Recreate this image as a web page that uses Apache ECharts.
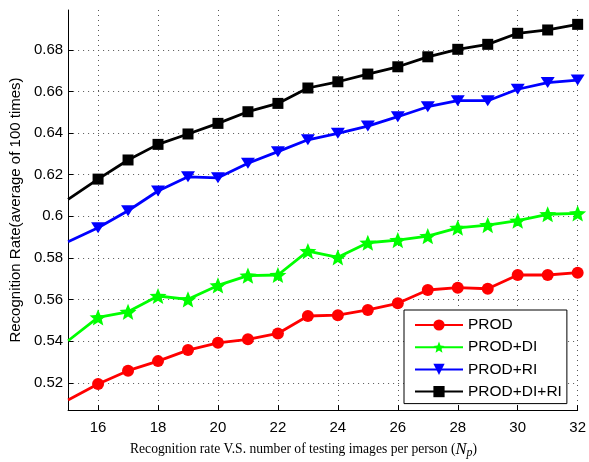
<!DOCTYPE html>
<html>
<head>
<meta charset="utf-8">
<script src="https://cdn.jsdelivr.net/npm/echarts@6/dist/echarts.min.js"></script>
<style>
  html, body { margin: 0; padding: 0; background: #fff; }
  #chart { width: 589px; height: 462px; }
</style>
</head>
<body>
<div id="chart"></div>
<script>
// Number of testing images per person (N_p)
const npValues = [15, 16, 17, 18, 19, 20, 21, 22, 23, 24, 25, 26, 27, 28, 29, 30, 31, 32];

// Recognition rates (average of 100 runs) for each method
const prod     = [0.5117, 0.5194, 0.5258, 0.5304, 0.5357, 0.5392, 0.5409, 0.5437, 0.5521, 0.5525, 0.5550, 0.5582, 0.5646, 0.5657, 0.5652, 0.5718, 0.5718, 0.5729];
const prodDi   = [0.5402, 0.5514, 0.5541, 0.5617, 0.5601, 0.5668, 0.5715, 0.5718, 0.5833, 0.5803, 0.5873, 0.5886, 0.5905, 0.5945, 0.5958, 0.5979, 0.6010, 0.6014];
const prodRi   = [0.5878, 0.5945, 0.6027, 0.6122, 0.6190, 0.6185, 0.6255, 0.6311, 0.6368, 0.6399, 0.6434, 0.6479, 0.6527, 0.6556, 0.6556, 0.6611, 0.6643, 0.6655];
const prodDiRi = [0.6082, 0.6179, 0.6271, 0.6346, 0.6396, 0.6447, 0.6503, 0.6543, 0.6617, 0.6647, 0.6684, 0.6719, 0.6767, 0.6803, 0.6827, 0.6880, 0.6896, 0.6923];

const seriesNames = ['PROD', 'PROD+DI', 'PROD+RI', 'PROD+DI+RI'];

// Tick positions
const xTicks = [16, 18, 20, 22, 24, 26, 28, 30, 32];
const yTicks = [0.52, 0.54, 0.56, 0.58, 0.6, 0.62, 0.64, 0.66, 0.68];

// five-pointed star marker
function starPath() {
  const R = 50, r = 22, pts = [];
  for (let i = 0; i < 10; i++) {
    const rad = (i % 2 === 0) ? R : r;
    const a = -Math.PI / 2 + i * Math.PI / 5;
    pts.push((50 + rad * Math.cos(a)).toFixed(2) + ' ' + (50 + rad * Math.sin(a)).toFixed(2));
  }
  return 'path://M' + pts.join(' L') + ' Z';
}

// the first sample sits on the left axis edge and carries no marker
function toPoints(values) {
  return values.map((v, i) => i === 0
    ? { value: [npValues[i], v], symbol: 'none' }
    : [npValues[i], v]);
}

const SANS = '"Liberation Sans", Arial, Helvetica, sans-serif';
const SERIF = '"Liberation Serif", "Times New Roman", serif';

function makeSeries(name, values, color, symbol, size, extra) {
  return Object.assign({
    name: name,
    type: 'line',
    data: toPoints(values),
    symbol: symbol,
    symbolSize: size,
    showAllSymbol: true,
    clip: true,
    z: 3,
    lineStyle: { color: color, width: 2.8 },
    itemStyle: { color: color, borderColor: color, borderWidth: 0 },
    emphasis: { disabled: true },
    animation: false
  }, extra || {});
}

const chart = echarts.init(document.getElementById('chart'), null, { renderer: 'canvas' });

const gridLine = { show: true, lineStyle: { color: '#555', type: [1, 4], width: 1 } };

chart.setOption({
  animation: false,
  backgroundColor: '#fff',
  grid: { left: 67, right: 10, top: 10, bottom: 52, containLabel: false },
  title: {
    text: 'Recognition rate V.S. number of testing images per person ({it|N}{sub|p})',
    left: 130,
    top: 440,
    padding: 0,
    textStyle: {
      fontFamily: SERIF,
      fontSize: 13.6,
      fontWeight: 'normal',
      color: '#000',
      lineHeight: 19,
      rich: {
        it: { fontFamily: SERIF, fontStyle: 'italic', fontSize: 16.5, lineHeight: 19, color: '#000' },
        sub: { fontFamily: SERIF, fontStyle: 'italic', fontSize: 12, lineHeight: 11, verticalAlign: 'bottom', color: '#000' }
      }
    }
  },
  legend: {
    data: seriesNames,
    orient: 'vertical',
    left: 404,
    top: 310,
    itemWidth: 48,
    itemHeight: 14,
    itemGap: 6.2,
    padding: [7, 5, 4, 10],
    borderColor: '#000',
    borderWidth: 1,
    backgroundColor: '#fff',
    z: 10,
    selectedMode: false,
    textStyle: { fontFamily: SANS, fontSize: 15.5, color: '#000', lineHeight: 14 }
  },
  xAxis: {
    type: 'value',
    min: 15,
    max: 32,
    axisLine: { show: true, onZero: false, lineStyle: { color: '#000', width: 1 } },
    axisTick: { show: true, inside: true, length: 5, customValues: xTicks, lineStyle: { color: '#000' } },
    axisLabel: { customValues: xTicks, margin: 10, fontFamily: SANS, fontSize: 15, color: '#000' },
    splitLine: gridLine
  },
  yAxis: {
    type: 'value',
    min: 0.5069,
    max: 0.6992,
    name: 'Recognition Rate(average of 100 times)',
    nameLocation: 'middle',
    nameGap: 43,
    nameTextStyle: { fontFamily: SANS, fontSize: 15, color: '#000' },
    axisLine: { show: true, onZero: false, lineStyle: { color: '#000', width: 1 } },
    axisTick: { show: true, inside: true, length: 5, customValues: yTicks, lineStyle: { color: '#000' } },
    axisLabel: {
      customValues: yTicks, margin: 5, fontFamily: SANS, fontSize: 15, color: '#000',
      formatter: v => String(parseFloat(v.toFixed(2)))
    },
    splitLine: gridLine
  },
  series: [
    makeSeries('PROD', prod, '#ff0000', 'circle', 12),
    makeSeries('PROD+DI', prodDi, '#00ff00', starPath(), 17, { symbolKeepAspect: true }),
    makeSeries('PROD+RI', prodRi, '#0000ff', 'triangle', [14, 11], { symbolRotate: 180 }),
    makeSeries('PROD+DI+RI', prodDiRi, '#000000', 'rect', 11)
  ]
});
</script>
</body>
</html>
